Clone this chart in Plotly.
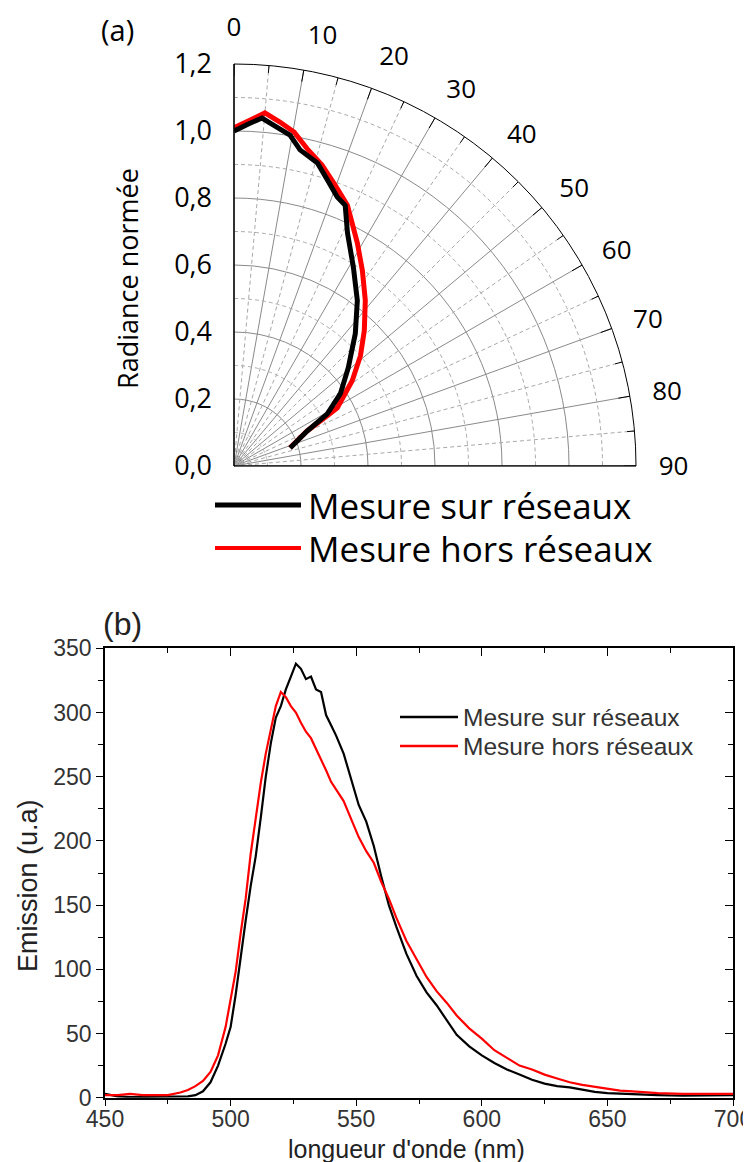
import numpy as np
import plotly.graph_objects as go

W, H = 751, 1162
OFF = 8  # page body offset in the browser

# ---------------- Data: polar (a) ----------------
theta_sur = [0, 2.4, 4.6, 6.9, 9.6, 11.8, 15.4, 18.1, 21.0, 23.1, 26.0, 31.0, 36.7, 42.5, 49.3, 55.8, 60.8, 64.4, 72.2]
r_sur = [1.000, 1.022, 1.042, 1.022, 1.002, 0.964, 0.938, 0.898, 0.860, 0.846, 0.773, 0.692, 0.616, 0.536, 0.450, 0.384, 0.319, 0.242, 0.176]

theta_hors = [0, 2.7, 5.0, 7.6, 10.2, 13.2, 16.3, 19.8, 23.5, 29.0, 33.3, 38.4, 43.9, 48.9, 54.2, 60.6, 61.7, 64.4, 72.0]
r_hors = [1.010, 1.034, 1.058, 1.036, 1.013, 0.969, 0.936, 0.891, 0.849, 0.760, 0.698, 0.631, 0.561, 0.501, 0.435, 0.354, 0.316, 0.242, 0.176]

radial_ticks = [0.0, 0.2, 0.4, 0.6, 0.8, 1.0, 1.2]
radial_ticktext = ["0,0", "0,2", "0,4", "0,6", "0,8", "1,0", "1,2"]
angular_ticks = [0, 10, 20, 30, 40, 50, 60, 70, 80, 90]
radial_minor = [0.1, 0.3, 0.5, 0.7, 0.9, 1.1]
angular_minor = [5, 15, 25, 35, 45, 55, 65, 75, 85]

# ---------------- Data: spectra (b) ----------------
wl = [450, 455, 460, 465, 470, 475, 480, 483, 486, 489, 492, 495, 498, 500, 502, 504, 506, 508, 510,
      512, 514, 516, 518, 520, 522, 524, 526, 528, 530, 532, 534, 536, 538, 540, 542, 545, 548, 551,
      554, 557, 560, 563, 566, 570, 574, 578, 582, 586, 590, 595, 600, 605, 610, 615, 620, 625, 630,
      635, 640, 645, 650, 655, 660, 665, 670, 680, 690, 700]
em_sur = [3, 1, 0.5, 0.5, 0.5, 0.5, 1, 1, 2, 5, 12, 25, 42, 55, 80, 110, 138, 165, 188,
          218, 250, 276, 296, 305, 318, 328, 338, 334, 326, 328, 318, 316, 298, 290, 282, 268, 248, 228,
          215, 196, 172, 150, 133, 112, 95, 82, 72, 60, 49, 40, 33, 27, 22, 18, 14, 11, 9,
          8, 6, 4.5, 3.5, 3, 2.5, 2, 2, 1.5, 1.5, 2]
em_hors = [2, 2, 3, 2, 2, 2, 4, 6, 9, 13, 20, 33, 55, 75, 98, 128, 155, 190, 218,
           245, 268, 288, 305, 316, 312, 305, 300, 292, 285, 280, 272, 263, 255, 246, 240, 231, 217, 203,
           192, 183, 168, 155, 140, 122, 108, 94, 83, 74, 64, 54, 46, 37, 31, 25, 22, 18, 15,
           12, 10, 8.5, 7, 5.5, 5, 4, 3.5, 3, 3, 3]

x_ticks = [450, 500, 550, 600, 650, 700]
y_ticks = [0, 50, 100, 150, 200, 250, 300, 350]

labels = ["Mesure sur réseaux", "Mesure hors réseaux"]
colors = ["#000000", "#ff0000"]


def px_x(p):
    return (p - OFF) / W


def px_y(p):
    return 1 - (p - OFF) / H


fig = go.Figure()

tt = np.linspace(0, 90, 181)
for rm in radial_minor:
    fig.add_trace(go.Scatterpolar(r=[rm] * len(tt), theta=tt, mode="lines",
                                  line=dict(color="#a8a8a8", width=1, dash="4px,3px"),
                                  hoverinfo="skip", showlegend=False))
for am in angular_minor:
    fig.add_trace(go.Scatterpolar(r=[0, 1.2], theta=[am, am], mode="lines",
                                  line=dict(color="#a8a8a8", width=1, dash="4px,3px"),
                                  hoverinfo="skip", showlegend=False))
# inward ticks on the outer arc + dark lower edge of the sector
tick_r, tick_t = [], []
for a in range(0, 91, 5):
    ln = 0.035 if a % 10 == 0 else 0.022
    tick_r += [1.2, 1.2 - ln, None]
    tick_t += [a, a, None]
tick_r += [0, 1.2]
tick_t += [angular_ticks[-1], angular_ticks[-1]]
fig.add_trace(go.Scatterpolar(r=tick_r, theta=tick_t, mode="lines",
                              line=dict(color="#000000", width=1),
                              hoverinfo="skip", showlegend=False))

fig.add_trace(go.Scatterpolar(r=r_hors, theta=theta_hors, mode="lines",
                              line=dict(color=colors[1], width=5), name=labels[1], showlegend=False))
fig.add_trace(go.Scatterpolar(r=r_sur, theta=theta_sur, mode="lines",
                              line=dict(color=colors[0], width=5), name=labels[0], showlegend=False))

fig.add_trace(go.Scatter(x=wl, y=em_sur, mode="lines", line=dict(color=colors[0], width=2.2),
                         name=labels[0], xaxis="x2", yaxis="y2", showlegend=False))
fig.add_trace(go.Scatter(x=wl, y=em_hors, mode="lines", line=dict(color=colors[1], width=2.2),
                         name=labels[1], xaxis="x2", yaxis="y2", showlegend=False))
fig.add_trace(go.Scatter(x=[None], y=[None], xaxis="x3", yaxis="y3", showlegend=False, hoverinfo="skip"))

pol_font = "Open Sans"
sp_font = "Liberation Sans, Arial"

fig.update_layout(
    width=W, height=H, autosize=False,
    margin=dict(l=0, r=0, t=0, b=0, pad=0, autoexpand=False),
    paper_bgcolor="white", plot_bgcolor="white",
    showlegend=False,
    polar=dict(
        domain=dict(x=[px_x(234), px_x(636)], y=[px_y(466), px_y(64)]),
        sector=[0, 90],
        bgcolor="white",
        radialaxis=dict(range=[0, 1.2], tickvals=radial_ticks, ticktext=radial_ticktext,
                        angle=90, side="counterclockwise", tickangle=90,
                        showline=True, linecolor="#000000", linewidth=1,
                        gridcolor="#8a8a8a", gridwidth=1, ticks="outside", ticklen=12,
                        tickcolor="rgba(0,0,0,0)",
                        tickfont=dict(family=pol_font, size=27, color="#000000")),
        angularaxis=dict(rotation=90, direction="clockwise", tickvals=angular_ticks,
                         ticktext=[str(v) for v in angular_ticks],
                         showline=True, linecolor="#000000", linewidth=1,
                         gridcolor="#8a8a8a", gridwidth=1,
                         ticks="outside", ticklen=17, tickcolor="rgba(0,0,0,0)",
                         tickfont=dict(family=pol_font, size=26, color="#000000")),
    ),
    xaxis2=dict(domain=[px_x(105), px_x(733)], anchor="y2", range=[450, 700],
                tickvals=x_ticks, ticks="outside", ticklen=7, tickwidth=1.2, tickcolor="#000",
                minor=dict(dtick=25, tick0=450, ticks="outside", ticklen=5, tickcolor="#000"),
                showline=True, linecolor="#000000", linewidth=1.5, showgrid=False, zeroline=False,
                ticklabelstandoff=-7,
                tickfont=dict(family=sp_font, size=23, color="#333333")),
    yaxis2=dict(domain=[px_y(1097.7), px_y(648.3)], anchor="x2", range=[0, 350],
                tickvals=y_ticks, ticks="outside", ticklen=7, tickwidth=1.2, tickcolor="#000",
                minor=dict(dtick=25, tick0=0, ticks="outside", ticklen=5, tickcolor="#000"),
                showline=True, linecolor="#000000", linewidth=1.5, showgrid=False, zeroline=False,
                tickfont=dict(family=sp_font, size=23, color="#333333")),
    xaxis3=dict(overlaying="x2", anchor="y3", side="top", range=[450, 700],
                tickvals=x_ticks, ticks="inside", ticklen=8, tickcolor="#000",
                minor=dict(dtick=25, tick0=450, ticks="inside", ticklen=5, tickcolor="#000"),
                showline=True, linecolor="#000000", linewidth=1.5, showgrid=False, zeroline=False,
                showticklabels=False),
    yaxis3=dict(overlaying="y2", anchor="x3", side="right", range=[0, 350],
                tickvals=y_ticks, ticks="inside", ticklen=8, tickcolor="#000",
                minor=dict(dtick=25, tick0=0, ticks="inside", ticklen=5, tickcolor="#000"),
                showline=True, linecolor="#000000", linewidth=1.5, showgrid=False, zeroline=False,
                showticklabels=False),
)

ann = []
shapes = []
ann.append(dict(x=px_x(99), y=px_y(29), xref="paper", yref="paper", text="(a)", showarrow=False,
                xanchor="left", yanchor="middle", font=dict(family=pol_font, size=29, color="#000")))
ann.append(dict(x=px_x(101), y=px_y(624), xref="paper", yref="paper", text="(b)", showarrow=False,
                xanchor="left", yanchor="middle", font=dict(family=sp_font, size=32, color="#222")))
ann.append(dict(x=px_x(127), y=px_y(278), xref="paper", yref="paper", text="Radiance normée",
                showarrow=False, textangle=-90, xanchor="center", yanchor="middle",
                font=dict(family=pol_font, size=27, color="#000")))
for i, (yy, lw) in enumerate([(505, 5), (548, 4)]):
    shapes.append(dict(type="line", xref="paper", yref="paper", x0=px_x(215), x1=px_x(301),
                       y0=px_y(yy), y1=px_y(yy), line=dict(color=colors[i], width=lw)))
    ann.append(dict(x=px_x(306), y=px_y(yy), xref="paper", yref="paper", text=labels[i],
                    showarrow=False, xanchor="left", yanchor="middle",
                    font=dict(family=pol_font, size=35, color="#000")))
ann.append(dict(x=px_x(28), y=px_y(886), xref="paper", yref="paper", text="Emission (u.a)",
                showarrow=False, textangle=-90, xanchor="center", yanchor="middle",
                font=dict(family=sp_font, size=27, color="#222")))
ann.append(dict(x=px_x(407), y=px_y(1149), xref="paper", yref="paper", text="longueur d'onde (nm)",
                showarrow=False, xanchor="center", yanchor="middle",
                font=dict(family=sp_font, size=25, color="#222")))
for i, yy in enumerate([717, 746]):
    shapes.append(dict(type="line", xref="paper", yref="paper", x0=px_x(400), x1=px_x(458),
                       y0=px_y(yy), y1=px_y(yy), line=dict(color=colors[i], width=2.5)))
    ann.append(dict(x=px_x(461), y=px_y(yy), xref="paper", yref="paper", text=labels[i],
                    showarrow=False, xanchor="left", yanchor="middle",
                    font=dict(family=sp_font, size=24.5, color="#333")))

fig.update_layout(annotations=ann, shapes=shapes)
fig.write_html("out.html")
